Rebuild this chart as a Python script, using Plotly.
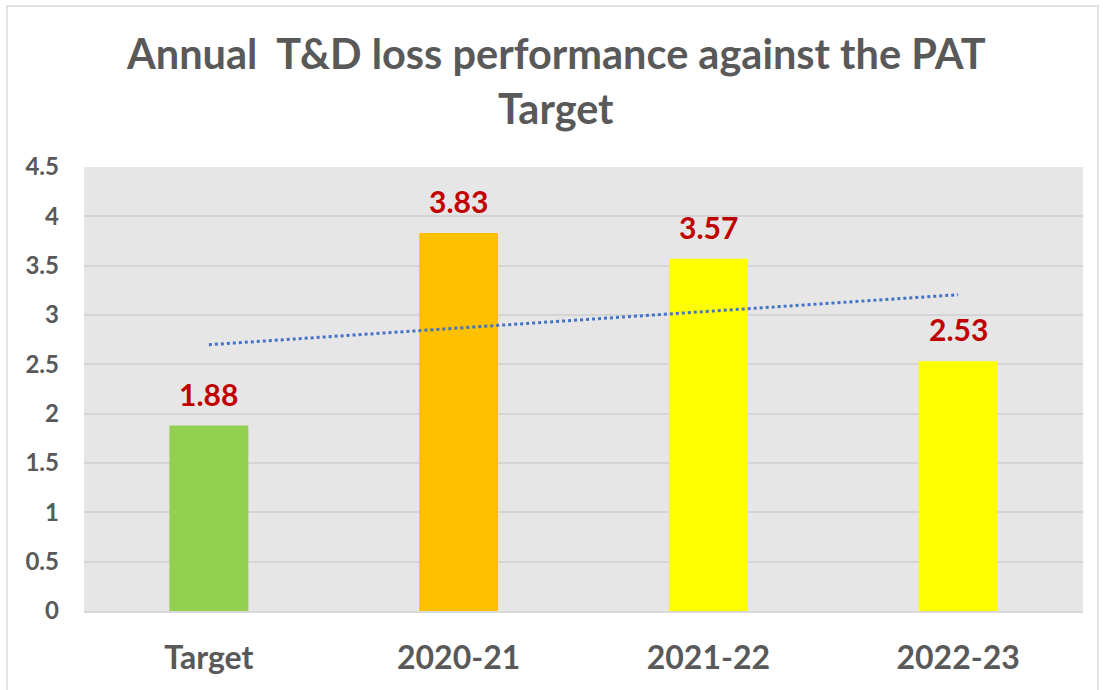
import numpy as np
import plotly.graph_objects as go

categories = ["Target", "2020-21", "2021-22", "2022-23"]
values = [1.88, 3.83, 3.57, 2.53]
bar_colors = ["#92d050", "#ffc000", "#ffff00", "#ffff00"]
y_ticks = [0, 0.5, 1, 1.5, 2, 2.5, 3, 3.5, 4, 4.5]
y_tick_labels = ["0", "0.5", "1", "1.5", "2", "2.5", "3", "3.5", "4", "4.5"]
title_lines = ["Annual  T&D loss performance against the PAT", "Target"]

FONT = "Lato"
GRAY = "#595959"

# linear trendline (least squares over category index)
idx = np.arange(len(values))
slope, intercept = np.polyfit(idx, values, 1)
trend = list(intercept + slope * idx)

fig = go.Figure()
fig.add_trace(go.Bar(
    x=categories, y=values, marker=dict(color=bar_colors, line=dict(width=0)),
    showlegend=False, hoverinfo="skip",
))
fig.add_trace(go.Scatter(
    x=categories, y=trend, mode="lines",
    line=dict(color="#4472c4", width=3, dash="dot"),
    showlegend=False, hoverinfo="skip",
))

for c, v in zip(categories, values):
    fig.add_annotation(
        x=c, y=v, text=f"{v:.2f}", showarrow=False, yanchor="bottom",
        yshift=12, font=dict(family=FONT, size=30, color="#c00000", weight="bold"),
    )

W, H = 1103, 690
ml, mr, mt, mb = 84, 20, 167, 79
pw, ph = W - ml - mr, H - mt - mb

def px_x(p):
    return (p - ml) / pw

def px_y(p):
    return 1 - (p - mt) / ph

fig.add_shape(type="rect", xref="paper", yref="paper",
              x0=px_x(7), x1=px_x(1098), y0=px_y(6), y1=px_y(700),
              line=dict(color="#d9d9d9", width=1.5), fillcolor="rgba(0,0,0,0)", layer="below")

for text, yc in zip(title_lines, [53, 108]):
    fig.add_annotation(
        x=px_x(556), y=px_y(yc), xref="paper", yref="paper", text=text,
        showarrow=False, xanchor="center", yanchor="middle",
        font=dict(family=FONT, size=41.5, color=GRAY, weight="bold"),
    )

fig.update_layout(
    width=W, height=H,
    margin=dict(l=ml, r=mr, t=mt, b=mb),
    paper_bgcolor="white", plot_bgcolor="#e6e6e6",
    bargap=0.684,
    xaxis=dict(showgrid=False, showline=True, linecolor="#d9d9d9", linewidth=2,
               ticks="", tickfont=dict(family=FONT, size=32, color=GRAY, weight="bold"),
               ticklabelstandoff=18, fixedrange=True),
    yaxis=dict(range=[0, 4.5], tickvals=y_ticks, ticktext=y_tick_labels,
               showgrid=True, gridcolor="#d4d4d4", gridwidth=2, zeroline=False,
               ticks="", tickfont=dict(family=FONT, size=24, color=GRAY, weight="bold"),
               ticklabelstandoff=24, fixedrange=True),
)

fig.write_html("out.html", config={"displayModeBar": False},
               post_script="document.body.style.margin='0';document.body.style.overflow='hidden';")
